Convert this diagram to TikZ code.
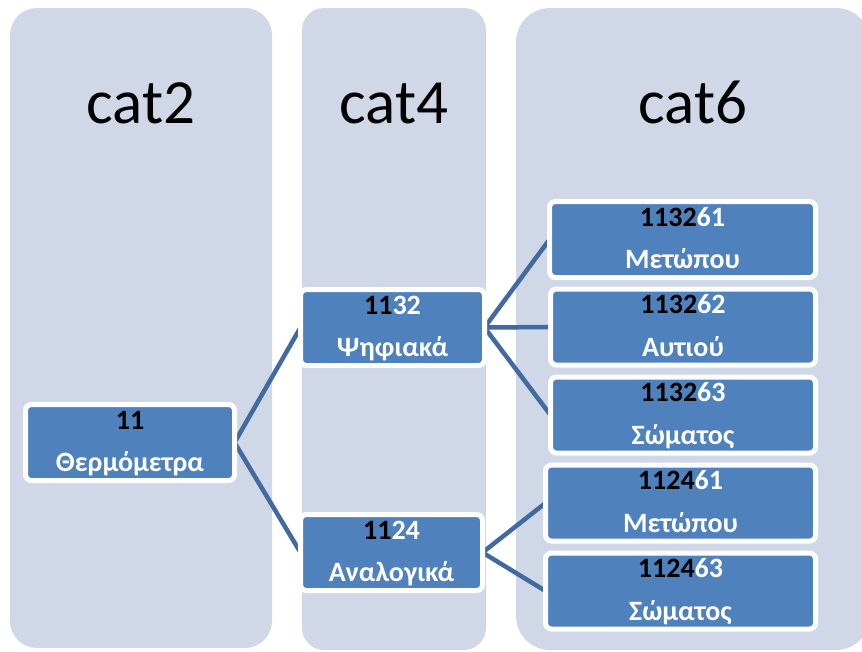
\documentclass[tikz,border=0pt]{standalone}
\usepackage{fontspec}
\setmainfont{Carlito}
\definecolor{colfill}{HTML}{D0D8E8}
\definecolor{boxblue}{HTML}{4F81BD}
\definecolor{linkblue}{HTML}{416AA0}
\pgfdeclarelayer{cols}
\pgfdeclarelayer{lines}
\pgfsetlayers{cols,lines,main}
\begin{document}
\begin{tikzpicture}[x=1pt,y=-1pt,
  colbg/.style={fill=colfill, draw=none},
  box/.style={draw=white, line width=5pt, fill=boxblue, rounded corners=6pt,
    minimum width=#1, minimum height=76pt, inner sep=0pt, outer sep=0pt},
  hdr/.style={font=\fontsize{63}{70}\selectfont, text=black, inner sep=0pt, anchor=base},
  numtxt/.style={font=\bfseries\fontsize{28}{32}\selectfont, text=white, inner sep=0pt, anchor=base},
  nametxt/.style={font=\bfseries\fontsize{28}{32}\selectfont, text=white, inner sep=0pt, anchor=base},
  link/.style={draw=linkblue, line width=4.5pt}
]
\useasboundingbox (0,0) rectangle (862,651);
\begin{pgfonlayer}{cols}
\begin{scope}
\clip (0,0) rectangle (862,651);
\fill[colbg, rounded corners=27pt] (10,8) rectangle (272,648);
\fill[colbg, rounded corners=22pt] (302,8) rectangle (486,650);
\fill[colbg, rounded corners=34pt] (516,8) rectangle (870,650);
\end{scope}
\end{pgfonlayer}

\node[hdr] (h2) at (141,123) {cat2};
\node[hdr] (h4) at (394,123) {cat4};
\node[hdr] (h6) at (693,123) {cat6};

% boxes
\node[box=209pt] (b11) at (130,442.5) {};
\node[box=184pt] (b1132) at (392.5,327.5) {};
\node[box=182pt] (b1124) at (391.5,552.5) {};
\node[box=266pt] (c1) at (682.5,239.5) {};
\node[box=265pt] (c2) at (683,327) {};
\node[box=265pt] (c3) at (683,415) {};
\node[box=270pt] (c4) at (680.5,503) {};
\node[box=270pt] (c5) at (680.5,591) {};

% texts
\node[numtxt] (t11a) at ([yshift=13.5pt]b11.center) {\textcolor{black}{11}};
\node[nametxt] (t11b) at ([yshift=-29pt]b11.center) {Θερμόμετρα};
\node[numtxt] (t1132a) at ([yshift=13.5pt]b1132.center) {\textcolor{black}{11}32};
\node[nametxt] (t1132b) at ([yshift=-29pt]b1132.center) {Ψηφιακά};
\node[numtxt] (t1124a) at ([yshift=13.5pt]b1124.center) {\textcolor{black}{11}24};
\node[nametxt] (t1124b) at ([yshift=-29pt]b1124.center) {Αναλογικά};
\node[numtxt] (tc1a) at ([yshift=13.5pt]c1.center) {\textcolor{black}{1132}61};
\node[nametxt] (tc1b) at ([yshift=-29pt]c1.center) {Μετώπου};
\node[numtxt] (tc2a) at ([yshift=13.5pt]c2.center) {\textcolor{black}{1132}62};
\node[nametxt] (tc2b) at ([yshift=-29pt]c2.center) {Αυτιού};
\node[numtxt] (tc3a) at ([yshift=13.5pt]c3.center) {\textcolor{black}{1132}63};
\node[nametxt] (tc3b) at ([yshift=-29pt]c3.center) {Σώματος};
\node[numtxt] (tc4a) at ([yshift=13.5pt]c4.center) {\textcolor{black}{1124}61};
\node[nametxt] (tc4b) at ([yshift=-29pt]c4.center) {Μετώπου};
\node[numtxt] (tc5a) at ([yshift=13.5pt]c5.center) {\textcolor{black}{1124}63};
\node[nametxt] (tc5b) at ([yshift=-29pt]c5.center) {Σώματος};

% connectors
\begin{pgfonlayer}{lines}
\draw[link] (b11.east) -- (b1132.west);
\draw[link] (b11.east) -- (b1124.west);
\draw[link] (b1132.east) -- (c1.west);
\draw[link] (b1132.east) -- (c2.west);
\draw[link] (b1132.east) -- (c3.west);
\draw[link] (b1124.east) -- (c4.west);
\draw[link] (b1124.east) -- (c5.west);
\end{pgfonlayer}
\end{tikzpicture}
\end{document}
